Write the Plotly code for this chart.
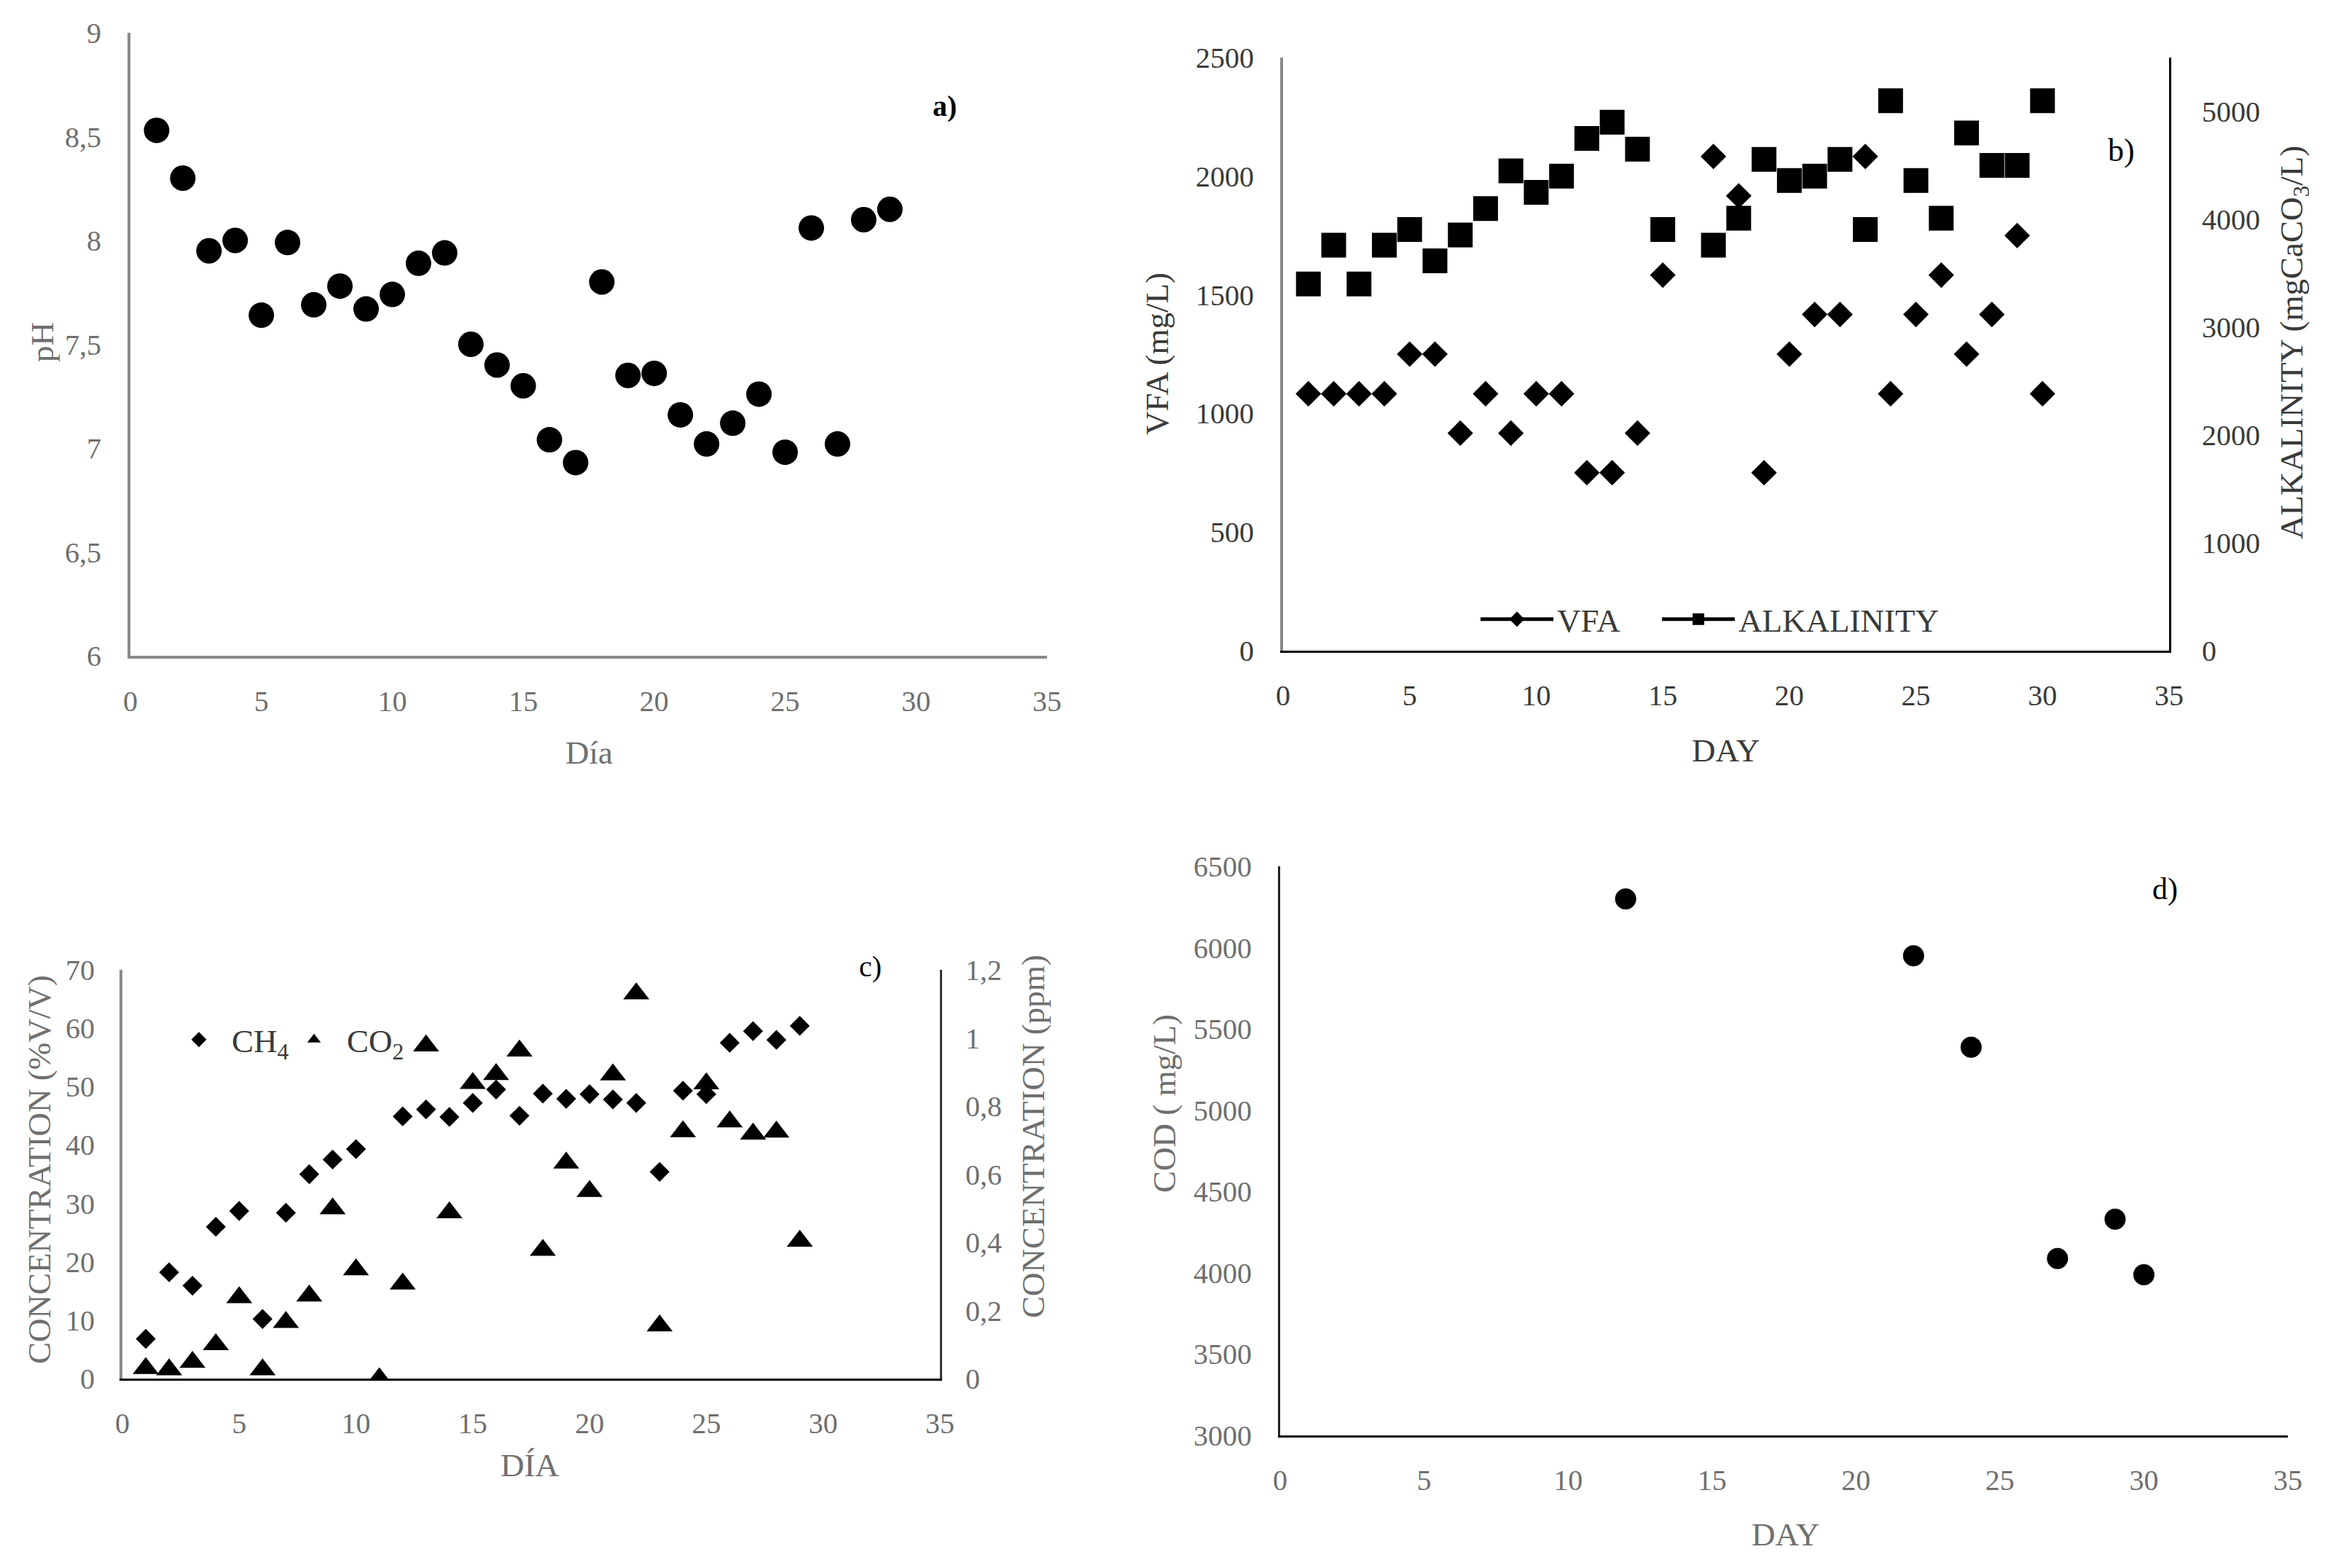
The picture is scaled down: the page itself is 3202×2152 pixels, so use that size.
import plotly.graph_objects as go

# ---------------- data ----------------
ph_day = list(range(1, 30))
ph_val = [8.53, 8.30, 7.95, 8.00, 7.64, 7.99, 7.69, 7.78, 7.67, 7.74,
          7.89, 7.94, 7.50, 7.40, 7.30, 7.04, 6.93, 7.80, 7.35, 7.36,
          7.16, 7.02, 7.12, 7.26, 6.98, 8.06, 7.02, 8.10, 8.15]

b_day = [1, 2, 3, 4, 5, 6, 7, 8, 9, 10, 11, 12, 13, 14, 15,
         17, 18, 19, 20, 21, 22, 23, 24, 25, 26, 27, 28, 29, 30]
vfa = [1083, 1083, 1083, 1083, 1250, 1250, 917, 1083, 917, 1083, 1083, 750, 750, 917, 1583,
       2083, 1917, 750, 1250, 1417, 1417, 2083, 1083, 1417, 1583, 1250, 1417, 1750, 1083]
alkalinity = [3400, 3760, 3400, 3760, 3905, 3615, 3855, 4100, 4450, 4250, 4400, 4750, 4900, 4650, 3905,
              3760, 4010, 4555, 4360, 4400, 4555, 3905, 5100, 4360, 4010, 4800, 4500, 4500, 5100]

ch4_day = [1, 2, 3, 4, 5, 6, 7, 8, 9, 10, 12, 13, 14, 15, 16, 17, 18, 19, 20,
           21, 22, 23, 24, 25, 26, 27, 28, 29]
ch4 = [6.8, 18.2, 15.9, 26.0, 28.7, 10.2, 28.4, 35.0, 37.5, 39.3, 44.9, 46.1, 44.8, 47.2,
       49.5, 45.0, 48.8, 47.9, 48.7, 47.8, 47.2, 35.4, 49.3, 48.7, 57.5, 59.5, 58.0, 60.4]
co2_day = list(range(1, 30))
co2 = [0.03, 0.026, 0.048, 0.10, 0.238, 0.026, 0.165, 0.243, 0.499, 0.32, 0.0, 0.278,
       0.977, 0.487, 0.867, 0.893, 0.962, 0.377, 0.633, 0.55, 0.892, 1.13, 0.155, 0.725,
       0.866, 0.754, 0.718, 0.724, 0.404]

cod_day = [12, 22, 24, 27, 29, 30]
cod = [6300, 5950, 5388, 4088, 4330, 3988]

# ---------------- layout helpers ----------------
W, H = 3202, 2152
FONT = "Liberation Serif"


def px_x(p):
    return p / W


def px_y(p):
    return 1 - p / H


def dom_x(a, b):
    return [px_x(a), px_x(b)]


def dom_y(top, bottom):
    return [px_y(bottom), px_y(top)]


GREY_TXT = "#6f6f6f"
DARK_TXT = "#3a3a3a"
GREY_LINE = "#8a8a8a"

fig = go.Figure()

# a) pH
fig.add_trace(go.Scatter(x=ph_day, y=ph_val, mode="markers", xaxis="x", yaxis="y",
                         marker=dict(symbol="circle", size=35, color="black"),
                         showlegend=False))

# b) VFA & alkalinity
fig.add_trace(go.Scatter(x=b_day, y=vfa, mode="markers", xaxis="x2", yaxis="y2",
                         marker=dict(symbol="diamond", size=27, color="black"),
                         showlegend=False))
fig.add_trace(go.Scatter(x=b_day, y=alkalinity, mode="markers", xaxis="x2", yaxis="y3",
                         marker=dict(symbol="square", size=34, color="black"),
                         showlegend=False))
# legend-only entries for b (line + marker symbols)
fig.add_trace(go.Scatter(x=[None], y=[None], mode="lines+markers", xaxis="x2", yaxis="y2",
                         name="VFA", line=dict(color="black", width=5),
                         marker=dict(symbol="diamond", size=16, color="black"),
                         legend="legend", legendwidth=134))
fig.add_trace(go.Scatter(x=[None], y=[None], mode="lines+markers", xaxis="x2", yaxis="y2",
                         name="ALKALINITY", line=dict(color="black", width=5),
                         marker=dict(symbol="square", size=16, color="black"),
                         legend="legend"))

# c) CH4 & CO2
fig.add_trace(go.Scatter(x=ch4_day, y=ch4, mode="markers", xaxis="x3", yaxis="y4",
                         name="CH<sub>4</sub>",
                         marker=dict(symbol="diamond", size=21, color="black"),
                         legend="legend2", legendwidth=63))
fig.add_trace(go.Scatter(x=co2_day, y=co2, mode="markers", xaxis="x3", yaxis="y5",
                         name="CO<sub>2</sub>",
                         marker=dict(symbol="triangle-up", size=31, color="black"),
                         legend="legend2"))

# d) COD
fig.add_trace(go.Scatter(x=cod_day, y=cod, mode="markers", xaxis="x4", yaxis="y6",
                         marker=dict(symbol="circle", size=29, color="black"),
                         showlegend=False))


def axis(domain, rng, dtick, tick_color, line_color, line_width=4, standoff=28, **kw):
    d = dict(domain=domain, range=rng, dtick=dtick, tick0=0, showgrid=False, zeroline=False,
             showline=True, linecolor=line_color, linewidth=line_width, ticks="",
             ticklabelstandoff=standoff, automargin=False,
             tickfont=dict(family=FONT, size=40, color=tick_color))
    d.update(kw)
    return d


XS = 24  # x tick label standoff

fig.update_layout(
    width=W, height=H,
    margin=dict(l=0, r=0, t=0, b=0, autoexpand=False),
    paper_bgcolor="white", plot_bgcolor="white",
    separators=", ",
    font=dict(family=FONT, color="black"),
    # a
    xaxis=axis(dom_x(179, 1437), [0, 35], 5, GREY_TXT, GREY_LINE, standoff=XS, anchor="y"),
    yaxis=axis(dom_y(45, 900), [6, 9], 0.5, GREY_TXT, GREY_LINE, anchor="x"),
    # b
    xaxis2=axis(dom_x(1761, 2977), [0, 35], 5, DARK_TXT, "black", 3, standoff=XS, anchor="y2"),
    yaxis2=axis(dom_y(79, 893), [0, 2500], 500, DARK_TXT, GREY_LINE, anchor="x2"),
    yaxis3=axis(dom_y(79, 893), [0, 5500], 1000, DARK_TXT, "black", 3, standoff=34,
                anchor="x2", overlaying="y2", side="right"),
    # c
    xaxis3=axis(dom_x(168, 1290), [0, 35], 5, GREY_TXT, "black", 3, standoff=XS, anchor="y4"),
    yaxis4=axis(dom_y(1331, 1892), [0, 70], 10, GREY_TXT, GREY_LINE, standoff=26, anchor="x3"),
    yaxis5=axis(dom_y(1331, 1892), [0, 1.2], 0.2, GREY_TXT, "#333333", 3, standoff=24,
                anchor="x3", overlaying="y4", side="right"),
    # d
    xaxis4=axis(dom_x(1757, 3140), [0, 35], 5, GREY_TXT, "black", 3, standoff=XS, anchor="y6"),
    yaxis6=axis(dom_y(1189, 1970), [3000, 6500], 500, GREY_TXT, "#222222", 3, anchor="x4"),
    legend=dict(orientation="h", x=px_x(2027), y=px_y(850), xanchor="left", yanchor="middle",
                bgcolor="rgba(0,0,0,0)", font=dict(family=FONT, size=45, color=DARK_TXT),
                itemwidth=100, traceorder="normal"),
    legend2=dict(orientation="h", x=px_x(228), y=px_y(1427), xanchor="left", yanchor="middle",
                 bgcolor="rgba(0,0,0,0)", font=dict(family=FONT, size=45, color=DARK_TXT),
                 itemwidth=80, traceorder="normal"),
)


def label(text, x, y, size=45, color=GREY_TXT, angle=0):
    fig.add_annotation(text=text, x=px_x(x), y=px_y(y), xref="paper", yref="paper",
                       showarrow=False, textangle=angle, xanchor="center", yanchor="middle",
                       font=dict(family=FONT, size=size, color=color))


# axis titles
label("Día", 808, 1033, color=GREY_TXT)
label("pH", 58, 470, color=GREY_TXT, angle=-90)
label("DAY", 2368, 1030, color=DARK_TXT)
label("VFA (mg/L)", 1588, 486, color=DARK_TXT, angle=-90)
label("ALKALINITY (mgCaCO<sub>3</sub>/L)", 3148, 470, color=DARK_TXT, angle=-90)
label("DÍA", 727, 2011, color=GREY_TXT)
label("CONCENTRATION (%V/V)", 54, 1605, color=GREY_TXT, angle=-90)
label("CONCENTRATION (ppm)", 1418, 1560, color=GREY_TXT, angle=-90)
label("DAY", 2450, 2106, color=GREY_TXT)
label("COD ( mg/L)", 1598, 1515, color=GREY_TXT, angle=-90)

# panel letters
label("<b>a)</b>", 1296, 146, size=40, color="black")
label("b)", 2911, 207, size=44, color="black")
label("c)", 1194, 1326, size=40, color="black")
label("d)", 2971, 1220, size=42, color="black")

fig.write_html("out.html", config={"displayModeBar": False},
               post_script="document.body.style.margin='0';")
